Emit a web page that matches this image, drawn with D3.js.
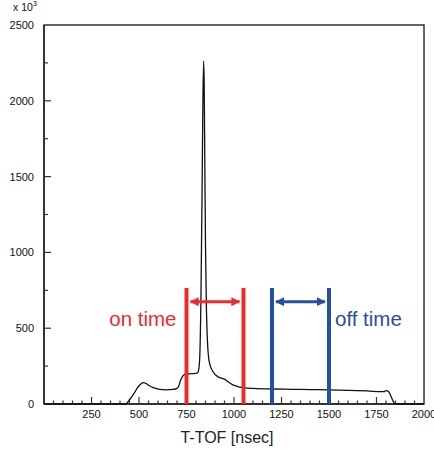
<!DOCTYPE html>
<html>
<head>
<meta charset="utf-8">
<script src="https://cdn.jsdelivr.net/npm/d3@7"></script>
<style>
  body { margin: 0; background: #fff; }
  svg { display: block; font-family: "Liberation Sans", Arial, sans-serif; }
</style>
</head>
<body>
<div id="chart"></div>
<script>
// T-TOF spectrum, counts in units of 10^3
const tof = [0, 420, 435, 450, 470, 495, 510, 521, 535, 555, 575, 591, 610, 640, 679, 700, 710, 717, 726, 738, 749, 780, 805, 812, 819, 826, 832, 836, 840, 843, 846, 850, 855, 860, 866, 871, 889, 915, 935, 950, 958, 967, 994, 1020, 1038, 1060, 1100, 1204, 1300, 1400, 1501, 1600, 1700, 1781, 1792, 1800, 1808, 1815, 1825, 1835, 1848, 2000];
const counts = [0, 0, 5, 28, 62, 112, 132, 141, 137, 120, 108, 102, 96, 93, 96, 103, 120, 150, 176, 193, 198, 200, 203, 215, 290, 700, 1400, 1950, 2262, 2120, 1650, 1050, 620, 420, 310, 271, 214, 180, 170, 164, 157, 148, 126, 115, 110, 106, 103, 99, 97, 95, 93, 90, 86, 81, 82, 88, 86, 80, 55, 25, 0, 0];

const xTicks = [250, 500, 750, 1000, 1250, 1500, 1750, 2000];
const yTicks = [0, 500, 1000, 1500, 2000, 2500];

const onWindow = [750, 1050];
const offWindow = [1200, 1500];
const markerTop = 765;
const arrowLevel = 675;

const data = tof.map((t, i) => ({ t: t, c: counts[i] }));

const width = 434, height = 452;
const margin = { left: 44, right: 10, top: 25, bottom: 48 };

const svg = d3.select("#chart").append("svg")
  .attr("width", width).attr("height", height);

const x = d3.scaleLinear().domain([0, 2000]).range([margin.left, width - margin.right]);
const y = d3.scaleLinear().domain([0, 2500]).range([height - margin.bottom, margin.top]);

const red = "#ee2a30", blue = "#2450a2";

// frame
svg.append("rect")
  .attr("x", x(0)).attr("y", y(2500))
  .attr("width", x(2000) - x(0)).attr("height", y(0) - y(2500))
  .attr("fill", "none").attr("stroke", "#333").attr("stroke-width", 1.5);

// x ticks (inside)
const xg = svg.append("g").attr("stroke", "#333").attr("stroke-width", 1.2);
d3.range(50, 2000, 50).forEach((v) => {
  const major = v % 250 === 0;
  xg.append("line")
    .attr("x1", x(v)).attr("x2", x(v))
    .attr("y1", y(0)).attr("y2", y(0) - (major ? 7 : 3.5));
});
svg.append("g").selectAll("text").data(xTicks).join("text")
  .attr("x", (d) => x(d)).attr("y", y(0) + 14)
  .attr("text-anchor", "middle").attr("font-size", 11).attr("fill", "#111")
  .text((d) => d);

// y ticks
const yg = svg.append("g").attr("stroke", "#333").attr("stroke-width", 1.2);
d3.range(250, 2500, 250).forEach((v) => {
  const major = v % 500 === 0;
  yg.append("line")
    .attr("x1", x(0)).attr("x2", x(0) + (major ? 7 : 4))
    .attr("y1", y(v)).attr("y2", y(v));
});
svg.append("line")
  .attr("x1", x(0)).attr("x2", x(0)).attr("y1", y(0)).attr("y2", y(2500))
  .attr("stroke", "#333").attr("stroke-width", 2);
svg.append("line")
  .attr("x1", x(0)).attr("x2", x(2000)).attr("y1", y(0)).attr("y2", y(0))
  .attr("stroke", "#333").attr("stroke-width", 2);
svg.append("g").selectAll("text").data(yTicks).join("text")
  .attr("x", x(0) - 10).attr("y", (d) => y(d) + 4)
  .attr("text-anchor", "end").attr("font-size", 11).attr("fill", "#111")
  .text((d) => d);

// multiplier
const mult = svg.append("text").attr("x", 13).attr("y", 11).attr("font-size", 10.5).attr("fill", "#111");
mult.append("tspan").text("x 10");
mult.append("tspan").attr("dy", -5).attr("font-size", 7.5).text("3");

// axis title
svg.append("text")
  .attr("x", (x(0) + x(2000)) / 2 - 7).attr("y", 443)
  .attr("text-anchor", "middle").attr("font-size", 16).attr("fill", "#222")
  .text("T-TOF [nsec]");

// spectrum
const line = d3.line().x((d) => x(d.t)).y((d) => y(d.c)).curve(d3.curveMonotoneX);
svg.append("path").datum(data)
  .attr("d", line).attr("fill", "none")
  .attr("stroke", "#111").attr("stroke-width", 1.3);

// markers
const defs = svg.append("defs");
[["r", red], ["b", blue]].forEach(([id, col]) => {
  defs.append("marker").attr("id", "head-" + id)
    .attr("viewBox", "0 0 10 10").attr("refX", 9).attr("refY", 5)
    .attr("markerWidth", 3).attr("markerHeight", 3).attr("orient", "auto-start-reverse")
    .attr("markerUnits", "strokeWidth")
    .append("path").attr("d", "M0,0 L10,5 L0,10 Z").attr("fill", col);
});

function window_marker(win, col, id) {
  const g = svg.append("g");
  g.selectAll("line.bar").data(win).join("line")
    .attr("class", "bar")
    .attr("x1", (d) => x(d)).attr("x2", (d) => x(d))
    .attr("y1", y(markerTop)).attr("y2", y(0))
    .attr("stroke", col).attr("stroke-width", 4);
  g.append("line")
    .attr("x1", x(win[0]) + 4).attr("x2", x(win[1]) - 4)
    .attr("y1", y(arrowLevel)).attr("y2", y(arrowLevel))
    .attr("stroke", col).attr("stroke-width", 3)
    .attr("marker-start", `url(#head-${id})`)
    .attr("marker-end", `url(#head-${id})`);
}
window_marker(onWindow, red, "r");
window_marker(offWindow, blue, "b");

svg.append("text").attr("x", x(onWindow[0]) - 10).attr("y", 326)
  .attr("text-anchor", "end").attr("font-size", 20.5).attr("fill", red)
  .text("on time");
svg.append("text").attr("x", x(offWindow[1]) + 6).attr("y", 326)
  .attr("font-size", 20.5).attr("fill", blue)
  .text("off time");
</script>
</body>
</html>
